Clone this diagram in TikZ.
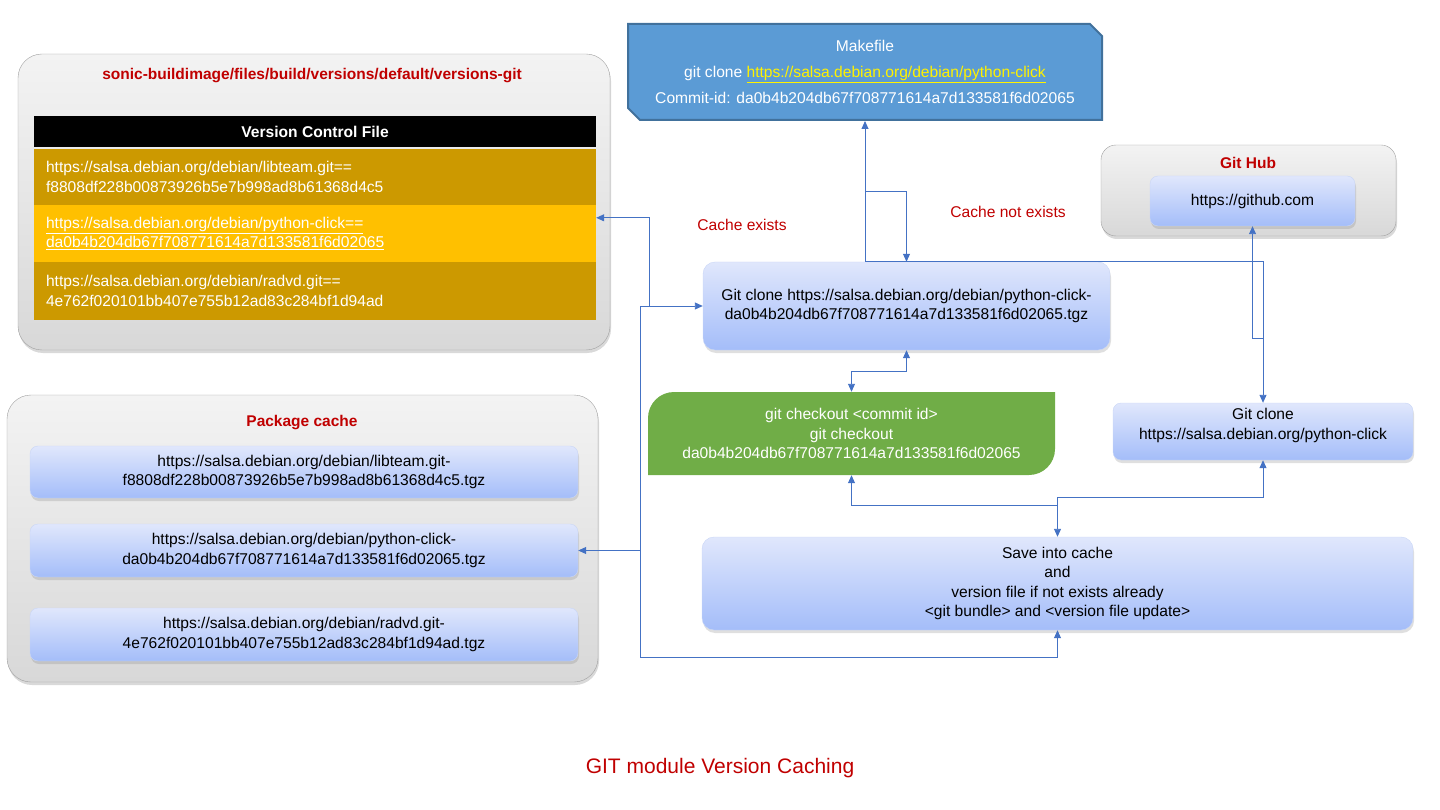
\documentclass[tikz,border=0pt]{standalone}
\usepackage{fontspec}
\setmainfont{Liberation Sans}
\usepackage{tikz}
\usetikzlibrary{arrows.meta,shapes.misc,shadows,calc}
\definecolor{linkblue}{HTML}{4472C4}
\definecolor{titlered}{HTML}{C00000}
\definecolor{golddark}{HTML}{CC9900}
\definecolor{goldlight}{HTML}{FFC000}
\definecolor{makefill}{HTML}{5B9BD5}
\definecolor{makeline}{HTML}{41719C}
\definecolor{checkgreen}{HTML}{70AD47}
\definecolor{itemtop}{HTML}{E0E7FC}
\definecolor{itembot}{HTML}{A4BDF9}
\definecolor{itemline}{HTML}{C9D6F6}
\definecolor{paneltop}{HTML}{F3F3F3}
\definecolor{panelbot}{HTML}{D8D8D8}
\definecolor{panelline}{HTML}{A0A0A0}
\tikzstyle{panel} = [draw=panelline, top color=paneltop, bottom color=panelbot, rounded corners=24pt, drop shadow={shadow xshift=1pt,shadow yshift=-3pt,opacity=0.3}]
\tikzstyle{item} = [draw=itemline, top color=itemtop, bottom color=itembot, rounded corners=8pt, drop shadow={shadow xshift=1pt,shadow yshift=-3pt,opacity=0.25}]
\tikzstyle{row} = [text=white, text width=538pt, align=left, inner xsep=12pt, inner ysep=0pt]
\tikzset{
  line/.style ={draw, linkblue, line width=0.9pt, ->},
  heading/.style ={text=titlered, font=\fontsize{15.5}{18}\selectfont\bfseries},
  greencut/.style ={path picture={
    \fill[checkgreen] (path picture bounding box.south west) [rounded corners=26pt] -- (path picture bounding box.north west)
      [sharp corners] -- (path picture bounding box.north east) [rounded corners=26pt] -- (path picture bounding box.south east)
      [sharp corners] -- cycle;}}
}

\begin{document}
\begin{tikzpicture}[x=1pt,y=-1pt,>={Triangle[length=8pt,width=7pt]}, every node/.style={align=center,font=\fontsize{15.6}{19.5}\selectfont}]
  \useasboundingbox (0,0) rectangle (1440,810);

  % versions-git file
  \node[panel,minimum width=592pt,minimum height=296pt] (verbox) at (314,202) {};
  \node[heading] (vtitle) at (312,76) {sonic-buildimage/files/build/versions/default/versions-git};
  \node[fill=black,text=white,minimum width=562pt,minimum height=31pt,font=\fontsize{15.6}{18}\selectfont\bfseries] (vhead) at (315,131.5) {Version Control File};
  \node[row,fill=golddark,minimum height=56pt] (vrow1) at (315,177) {https://salsa.debian.org/debian/libteam.git==\\f8808df228b00873926b5e7b998ad8b61368d4c5};
  \node[row,fill=goldlight,minimum height=57pt] (vrow2) at (315,233.5) {\underline{https://salsa.debian.org/debian/python-click==}\\\underline{da0b4b204db67f708771614a7d133581f6d02065}};
  \node[row,fill=golddark,minimum height=58pt] (vrow3) at (315,291) {https://salsa.debian.org/debian/radvd.git==\\4e762f020101bb407e755b12ad83c284bf1d94ad};

  % package cache
  \node[panel,minimum width=591pt,minimum height=287pt] (pkgbox) at (302.5,538.5) {};
  \node[heading] (ptitle) at (302,423) {Package cache};
  \node[item,minimum width=548pt,minimum height=52pt] (pkg1) at (304,472) {https://salsa.debian.org/debian/libteam.git-\\f8808df228b00873926b5e7b998ad8b61368d4c5.tgz};
  \node[item,minimum width=548pt,minimum height=53pt] (pkg2) at (304,550.5) {https://salsa.debian.org/debian/python-click-\\da0b4b204db67f708771614a7d133581f6d02065.tgz};
  \node[item,minimum width=548pt,minimum height=53pt] (pkg3) at (304,634.5) {https://salsa.debian.org/debian/radvd.git-\\4e762f020101bb407e755b12ad83c284bf1d94ad.tgz};

  % makefile
  \node[chamfered rectangle,chamfered rectangle corners={north east,south west},chamfered rectangle xsep=6pt,chamfered rectangle ysep=6pt,
        draw=makeline,line width=2pt,fill=makefill,text=white,minimum width=474pt,minimum height=96pt,inner sep=0pt,
        font=\fontsize{15.6}{26}\selectfont] (make) at (865,72)
    {Makefile\\git clone \textcolor{yellow}{\underline{https://salsa.debian.org/debian/python-click}}\\Commit-id: da0b4b204db67f708771614a7d133581f6d02065};

  % git hub
  \node[panel,rounded corners=15pt,minimum width=295pt,minimum height=91pt] (hub) at (1248.5,190.5) {};
  \node[heading] (htitle) at (1248,163) {Git Hub};
  \node[item,minimum width=205pt,minimum height=50pt] (huburl) at (1252.5,201) {https://github.com};

  % flow
  \node[item,rounded corners=12pt,minimum width=407pt,minimum height=88pt] (gclone) at (906.5,306) {Git clone https://salsa.debian.org/debian/python-click-\\da0b4b204db67f708771614a7d133581f6d02065.tgz};
  \node[greencut,minimum width=407pt,minimum height=83pt,text=white] (chk) at (851.5,433.5) {git checkout <commit id>\\git checkout\\da0b4b204db67f708771614a7d133581f6d02065};
  \node[item,rounded corners=8pt,minimum width=300pt,minimum height=57pt,text depth=15pt] (rclone) at (1263,431.5) {Git clone\\https://salsa.debian.org/python-click};
  \node[item,rounded corners=12pt,minimum width=711pt,minimum height=93pt] (save) at (1057.5,583.5) {Save into cache\\and\\version file if not exists already\\<git bundle> and <version file update>};

  \node[text=titlered] (cexist) at (742,225) {Cache exists};
  \node[text=titlered] (cnot) at (1008,212) {Cache not exists};
  \node[text=titlered,font=\fontsize{21}{24}\selectfont] (caption) at (720,768) {GIT module Version Caching};

  \coordinate (jl) at (pkg2.east -| 640,0);
  \coordinate (jb) at (640,657);
  \coordinate (jv) at (649,306);
  \coordinate (jm) at (make.south |- gclone.north);
  \coordinate (jt) at (make.south |- 0,191);
  \coordinate (jg) at (gclone.south |- 0,371);
  \coordinate (jh) at (rclone.north |- 0,338);
  \coordinate (jc) at (save.north |- 0,505);
  \coordinate (jr) at (save.north |- 0,497);

  \begin{scope}[every path/.style=line]
    \path (jl) -- (pkg2.east);
    \path (jl) -- (jb) -| (save.south);
    \path (jl) |- (gclone.west);
    \path (jv) |- ([yshift=-13pt]vrow2.north east);
    \path (jm) -- (make.south);
    \path (jt) -| (gclone.north);
    \path (jm) -| (rclone.north);
    \path (jh) -- (huburl.south |- jh) -- (huburl.south);
    \path[<->] (gclone.south) -- (jg) -| (chk.north);
    \path (jc) -| (chk.south);
    \path (jr) -| (rclone.south);
    \path (jr) -- (save.north);
  \end{scope}

\end{tikzpicture}
\end{document}
